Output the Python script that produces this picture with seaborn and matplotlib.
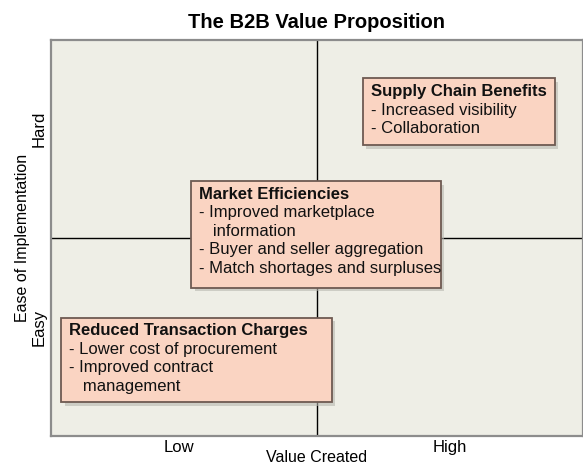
import matplotlib
matplotlib.use("Agg")
import matplotlib.pyplot as plt
import matplotlib.patches as mpatches
import seaborn as sns

# quadrant labels
x_ticks = [2.4, 7.5]
x_labels = ["Low", "High"]
y_ticks = [2.75, 7.75]
y_labels = ["Easy", "Hard"]
divider = 5.0

# box contents
titles = ["Supply Chain Benefits", "Market Efficiencies", "Reduced Transaction Charges"]
bullets = [
    ["- Increased visibility", "- Collaboration"],
    ["- Improved marketplace", "   information", "- Buyer and seller aggregation",
     "- Match shortages and surpluses"],
    ["- Lower cost of procurement", "- Improved contract", "   management"],
]
# box rectangles (x0, y0, width, height) in axis units 0-10
boxes = [(5.86, 7.34, 3.61, 1.69), (2.63, 3.74, 4.70, 2.70), (0.19, 0.86, 5.09, 2.13)]

sns.set_style("white")
plt.rcParams["font.family"] = ["Liberation Sans", "DejaVu Sans"]
plt.rcParams["text.color"] = "black"
plt.rcParams["axes.labelcolor"] = "black"
plt.rcParams["xtick.color"] = "black"
plt.rcParams["ytick.color"] = "black"

fig = plt.figure(figsize=(5.83, 4.68), dpi=100)
ax = fig.add_axes([0.0875, 0.0684, 0.912, 0.846])
ax.set_facecolor("#eeeee6")
ax.set_xlim(0, 10)
ax.set_ylim(0, 10)
for s in ax.spines.values():
    s.set_color("#8c8c8c")
    s.set_linewidth(1.6)

sns.lineplot(x=[divider, divider], y=[0, 10], color="black", lw=1, ax=ax,
             estimator=None, sort=False)
sns.lineplot(x=[0, 10], y=[divider, divider], color="black", lw=1, ax=ax,
             estimator=None, sort=False)

for (x0, y0, w, h), title, lines in zip(boxes, titles, bullets):
    shadow = mpatches.Rectangle((x0 + 0.07, y0 - 0.09), w, h, facecolor="#b8b8b0",
                                edgecolor="none", alpha=0.6, zorder=3)
    ax.add_patch(shadow)
    rect = mpatches.Rectangle((x0, y0), w, h, facecolor="#fad4c2",
                              edgecolor="#6e5a52", lw=1.3, zorder=4)
    ax.add_patch(rect)
    tx = x0 + 0.15
    ty = y0 + h - 0.14
    ax.text(tx, ty, title, fontsize=12, fontweight="bold", va="top", ha="left",
            zorder=5, color="#111111")
    for i, line in enumerate(lines):
        ax.text(tx, ty - 0.47 * (i + 1), line, fontsize=12, va="top", ha="left",
                zorder=5, color="#111111")

ax.set_xticks(x_ticks)
ax.set_xticklabels(x_labels, fontsize=12)
ax.set_yticks(y_ticks)
ax.set_yticklabels(y_labels, fontsize=12, rotation=90, va="center")
ax.tick_params(length=0, pad=3)
ax.set_xlabel("Value Created", fontsize=11.5, labelpad=-4)
ax.set_ylabel("Ease of Implementation", fontsize=11.5, labelpad=1)
ax.set_title("The B2B Value Proposition", fontsize=14.5, fontweight="bold", pad=9)

fig.savefig("out.png", dpi=100)
